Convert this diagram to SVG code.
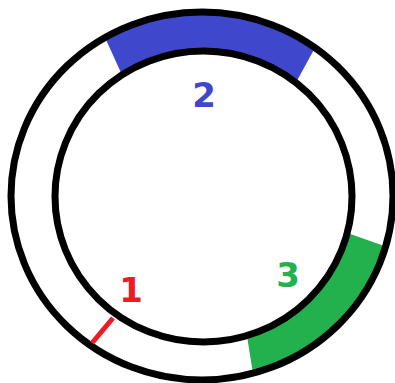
<svg xmlns="http://www.w3.org/2000/svg" width="395" height="383" viewBox="0 0 395 383">
<style>
.ring{fill:none;stroke:#000;stroke-width:7}
.lbl{font-family:"DejaVu Sans",sans-serif;font-weight:bold;font-size:34px;text-anchor:middle}
</style>
<rect width="395" height="383" fill="#fff"/>
<g id="band2">
<path d="M105,37.5 A191,184 0 0 1 315,47.7 L296,82.6 A148.5,145.5 0 0 0 122,74.9 Z" fill="#3f48cc"/>
</g>
<g id="band3">
<path d="M385.7,246.5 A191,184 0 0 1 253,373.4 L247,336 A148.5,145.5 0 0 0 347.5,233 Z" fill="#22b14c"/>
</g>
<g id="rings">
<ellipse class="ring" cx="202" cy="196" rx="191" ry="184"/>
<ellipse class="ring" cx="203.5" cy="196.5" rx="148.5" ry="145.5"/>
</g>
<g id="marker1">
<line x1="113" y1="318" x2="92" y2="343" stroke="#ed1c24" stroke-width="5"/>
</g>
<g id="label1"><text class="lbl" x="131" y="302" fill="#ed1c24">1</text></g>
<g id="label2"><text class="lbl" x="204" y="107" fill="#3f48cc">2</text></g>
<g id="label3"><text class="lbl" x="288" y="287" fill="#22b14c">3</text></g>
</svg>
